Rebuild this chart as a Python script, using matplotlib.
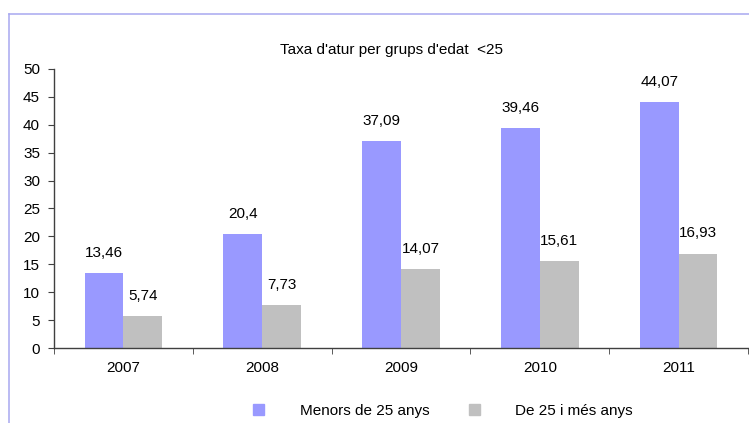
import matplotlib
matplotlib.use("Agg")
import matplotlib.pyplot as plt
import numpy as np
from matplotlib.lines import Line2D
from matplotlib.patches import Patch

years = ["2007", "2008", "2009", "2010", "2011"]
menors = [13.46, 20.4, 37.09, 39.46, 44.07]
majors = [5.74, 7.73, 14.07, 15.61, 16.93]
menors_lbl = ["13,46", "20,4", "37,09", "39,46", "44,07"]
majors_lbl = ["5,74", "7,73", "14,07", "15,61", "16,93"]
title = "Taxa d'atur per grups d'edat  <25"
series_names = ["Menors de 25 anys", "De 25 i més anys"]

BLUE = "#9999FF"
GRAY = "#C0C0C0"
FS = 11

plt.rcParams['font.family'] = ['Liberation Sans', 'DejaVu Sans']

W, H = 749, 423
fig = plt.figure(figsize=(W / 100, H / 100), dpi=100)
ax = fig.add_axes([54 / W, (H - 348) / H, (748 - 54) / W, (348 - 69) / H])

x = np.arange(len(years))
bw = 0.28
b1 = ax.bar(x - bw / 2, menors, bw, color=BLUE, linewidth=0)
b2 = ax.bar(x + bw / 2, majors, bw, color=GRAY, linewidth=0)
for rect, lbl in zip(b1, menors_lbl):
    ax.annotate(lbl, (rect.get_x() + rect.get_width() / 2, rect.get_height()),
                xytext=(0, 9.5), textcoords="offset points", ha="center", va="bottom", fontsize=FS)
for rect, lbl in zip(b2, majors_lbl):
    ax.annotate(lbl, (rect.get_x() + rect.get_width() / 2, rect.get_height()),
                xytext=(0, 9.5), textcoords="offset points", ha="center", va="bottom", fontsize=FS)

ax.set_xlim(-0.5, len(years) - 0.5)
ax.set_ylim(0, 50)
ax.set_yticks(np.arange(0, 51, 5))
ax.set_xticks(x)
ax.set_xticklabels(years, fontsize=FS)
ax.set_xticks(np.arange(-0.5, len(years) + 0.5, 1), minor=True)
ax.tick_params(axis="x", which="major", length=0, pad=9)
ax.tick_params(axis="x", which="minor", length=4, direction="out", color="#404040")
ax.tick_params(axis="y", length=4, direction="out", labelsize=FS, color="#404040", pad=6)
for s in ["top", "right"]:
    ax.spines[s].set_visible(False)
for s in ["left", "bottom"]:
    ax.spines[s].set_color("#404040")
    ax.spines[s].set_linewidth(1)

fig.text(392 / W, 1 - 50 / H, title, ha="center", va="center", fontsize=FS)

handles = [Patch(color=BLUE), Patch(color=GRAY)]
fig.legend(handles, series_names, loc="center", bbox_to_anchor=(443 / W, 1 - 411 / H),
           ncol=2, frameon=False, fontsize=FS, handlelength=0.75, handleheight=0.75,
           handletextpad=2.3, columnspacing=2.6)

frame_c = "#A8A8F0"
fig.add_artist(Line2D([9 / W, 1], [1 - 14 / H, 1 - 14 / H], transform=fig.transFigure, color=frame_c, lw=1.1))
fig.add_artist(Line2D([9 / W, 9 / W], [0, 1 - 14 / H], transform=fig.transFigure, color=frame_c, lw=1.1))

fig.savefig("out.png", dpi=100)
